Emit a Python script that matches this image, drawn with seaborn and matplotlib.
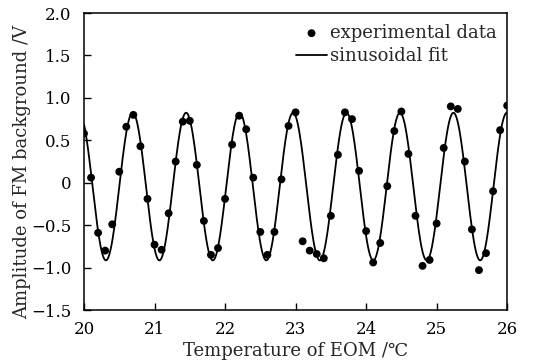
import numpy as np
import pandas as pd
import matplotlib
matplotlib.use("Agg")
import matplotlib.pyplot as plt
import seaborn as sns

# measured points (temperature in degC, amplitude in V)
temperature = [20.0, 20.1, 20.2, 20.3, 20.4, 20.5, 20.6, 20.7, 20.8, 20.9,
               21.0, 21.1, 21.2, 21.3, 21.4, 21.5, 21.6, 21.7, 21.8, 21.9,
               22.0, 22.1, 22.2, 22.3, 22.4, 22.5, 22.6, 22.7, 22.8, 22.9,
               23.0, 23.1, 23.2, 23.3, 23.4, 23.5, 23.6, 23.7, 23.8, 23.9,
               24.0, 24.1, 24.2, 24.3, 24.4, 24.5, 24.6, 24.7, 24.8, 24.9,
               25.0, 25.1, 25.2, 25.3, 25.4, 25.5, 25.6, 25.7, 25.8, 25.9,
               26.0]
amplitude = [0.58, 0.06, -0.59, -0.80, -0.49, 0.13, 0.66, 0.80, 0.43, -0.19,
             -0.73, -0.79, -0.36, 0.25, 0.72, 0.73, 0.21, -0.45, -0.85, -0.77,
             -0.19, 0.45, 0.79, 0.63, 0.06, -0.58, -0.85, -0.58, 0.04, 0.67,
             0.83, -0.69, -0.80, -0.84, -0.89, -0.39, 0.33, 0.83, 0.75, 0.14,
             -0.57, -0.94, -0.71, -0.04, 0.61, 0.84, 0.34, -0.39, -0.98, -0.91,
             -0.48, 0.41, 0.90, 0.87, 0.25, -0.55, -1.03, -0.83, -0.10, 0.62,
             0.91]

# sinusoidal fit parameters
fit_amp = 0.87
fit_offset = -0.045
fit_period = 0.758
fit_peak = 20.69

xticks = [20, 21, 22, 23, 24, 25, 26]
yticks = [-1.5, -1.0, -0.5, 0, 0.5, 1.0, 1.5, 2.0]
ytick_labels = ["\u22121.5", "\u22121.0", "\u22120.5", "0", "0.5", "1.0", "1.5", "2.0"]

data = pd.DataFrame({"T": temperature, "A": amplitude})
fit_x = np.linspace(20, 26, 800)
fit = pd.DataFrame({"T": fit_x,
                    "A": fit_amp * np.cos(2 * np.pi * (fit_x - fit_peak) / fit_period) + fit_offset})

sns.set_style("ticks")
plt.rcParams["font.family"] = ["DejaVu Serif", "DejaVu Sans"]
plt.rcParams["font.size"] = 12

fig = plt.figure(figsize=(5.35, 3.63), dpi=100)
ax = fig.add_axes([0.157, 0.146, 0.791, 0.818])

sns.scatterplot(data=data, x="T", y="A", ax=ax, color="black", s=32,
                edgecolor="none", label="experimental data", zorder=3)
sns.lineplot(data=fit, x="T", y="A", ax=ax, color="black", linewidth=1.3,
             label="sinusoidal fit")

ax.set_xlim(20, 26)
ax.set_ylim(-1.5, 2.0)
ax.set_xticks(xticks)
ax.set_yticks(yticks)
ax.set_yticklabels(ytick_labels)
ax.tick_params(direction="in", length=5, width=1, labelsize=12, colors="black")
ax.tick_params(axis="y", pad=9)
ax.tick_params(axis="x", pad=8)
for s in ax.spines.values():
    s.set_linewidth(1.1)
    s.set_color("black")

ax.set_xlabel("Temperature of EOM /\u2103", fontsize=13, labelpad=3)
ax.set_ylabel("Amplitude of FM background /V", fontsize=13)
ax.yaxis.set_label_coords(-0.125, 0.465)

ax.legend(loc="upper right", frameon=False, handlelength=1.7, handletextpad=0.15,
          borderaxespad=0.2, fontsize=13, labelspacing=0.3)

fig.savefig("out.png", dpi=100)
